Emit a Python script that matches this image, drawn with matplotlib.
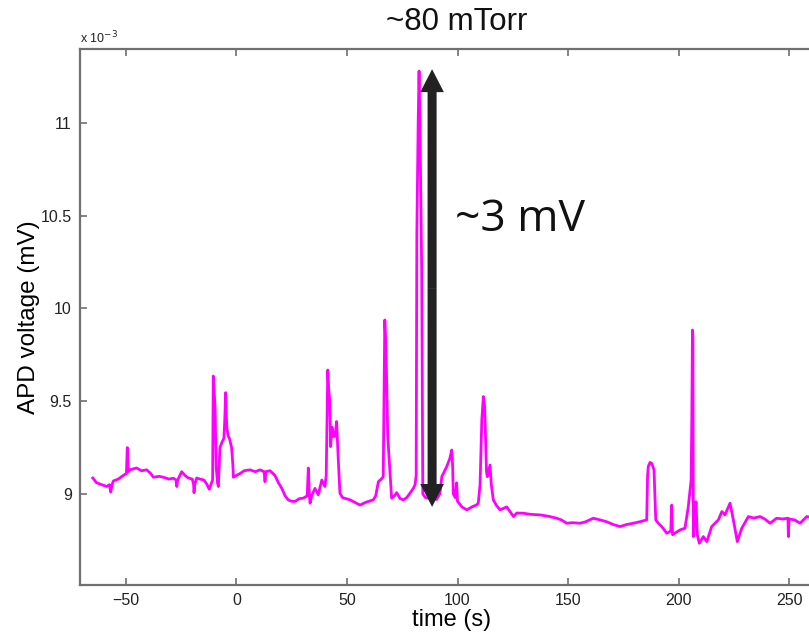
import numpy as np
import matplotlib
matplotlib.use("Agg")
import matplotlib.pyplot as plt
from matplotlib.patches import FancyArrowPatch

# APD trace (time in s, voltage in units of 1e-3)
vT = [-65.0, -63.3, -61.0, -58.7, -57.5, -56.9, -56.3, -55.7, -53.5, -51.2,
      -49.8, -49.4, -49.0, -48.2, -45.2, -43.0, -40.6, -38.8, -37.6, -35.0,
      -33.1, -30.5, -28.6, -27.3, -27.0, -26.6, -24.8, -23.3, -21.8, -20.0,
      -19.4, -19.2, -18.9, -18.0, -16.5, -14.7, -13.3, -12.3, -11.3, -10.8,
      -10.5, -10.1, -9.7, -9.2, -8.6, -8.2, -7.5, -6.5, -5.7, -5.3,
      -4.9, -4.4, -3.7, -3.2, -2.2, -1.6, -1.4, 0.0, 1.6, 3.5,
      6.1, 8.5, 10.6, 12.5, 12.9, 13.3, 15.2, 17.4, 19.0, 20.5,
      22.0, 23.4, 25.0, 26.5, 28.5, 30.2, 32.0, 32.5, 33.0, 33.3,
      34.0, 35.5, 37.0, 38.6, 40.0, 40.6, 41.3, 41.8, 42.2, 42.6,
      43.2, 44.0, 44.6, 45.3, 46.0, 46.8, 48.0, 51.4, 53.5, 55.9,
      58.5, 61.9, 63.0, 64.2, 65.5, 66.4, 67.1, 67.6, 68.0, 68.4,
      69.0, 70.2, 71.5, 72.5, 74.0, 75.5, 77.0, 78.5, 80.0, 80.8,
      81.3, 81.6, 82.2, 82.6, 83.0, 83.4, 83.8, 84.0, 84.3, 85.5,
      88.0, 90.5, 92.0, 92.9, 94.0, 95.1, 96.5, 97.4, 97.8, 98.1,
      99.0, 99.6, 100.0, 102.0, 104.2, 106.5, 108.5, 109.4, 110.2, 111.0,
      111.7, 112.3, 112.7, 113.1, 113.5, 114.7, 115.3, 116.2, 117.5, 119.2,
      122.3, 125.3, 126.8, 129.8, 133.0, 137.3, 141.0, 144.9, 147.0, 149.4,
      152.0, 155.4, 158.0, 161.4, 164.5, 167.5, 170.5, 173.5, 176.5, 179.5,
      182.5, 185.6, 186.0, 186.3, 187.1, 187.9, 188.9, 189.3, 189.7, 191.0,
      192.4, 194.7, 196.5, 196.9, 197.3, 198.5, 200.7, 202.9, 204.4, 205.7,
      206.0, 206.3, 206.5, 206.7, 207.3, 207.9, 208.5, 209.4, 211.2, 212.8,
      215.0, 218.0, 219.6, 221.0, 223.3, 224.8, 226.6, 228.6, 231.6, 234.0,
      236.9, 239.0, 241.4, 244.4, 247.0, 249.5, 249.7, 250.0, 252.5, 255.0,
      258.0, 262.0]
vSig = [9.086, 9.06, 9.05, 9.04, 9.05, 9.01, 9.05, 9.07, 9.08, 9.10,
        9.11, 9.25, 9.12, 9.13, 9.14, 9.125, 9.13, 9.11, 9.09, 9.095,
        9.09, 9.08, 9.085, 9.075, 9.04, 9.075, 9.12, 9.10, 9.086, 9.08,
        9.05, 9.007, 9.05, 9.086, 9.08, 9.075, 9.05, 9.025, 9.06, 9.075,
        9.636, 9.55, 9.47, 9.15, 9.06, 9.04, 9.25, 9.28, 9.30, 9.40,
        9.546, 9.36, 9.31, 9.30, 9.25, 9.15, 9.09, 9.10, 9.11, 9.125,
        9.13, 9.12, 9.13, 9.12, 9.066, 9.12, 9.125, 9.10, 9.06, 9.03,
        8.99, 8.968, 8.96, 8.96, 8.975, 8.977, 8.99, 9.14, 8.99, 8.95,
        8.99, 9.03, 8.995, 9.075, 9.04, 9.10, 9.668, 9.55, 9.507, 9.255,
        9.36, 9.31, 9.31, 9.39, 9.20, 9.004, 8.98, 8.968, 8.955, 8.94,
        8.955, 8.968, 8.99, 9.066, 9.08, 9.093, 9.938, 9.80, 9.578, 9.327,
        9.20, 8.977, 8.99, 9.007, 8.975, 8.968, 8.98, 9.004, 9.03, 9.05,
        9.10, 10.40, 11.00, 11.28, 11.00, 10.60, 10.20, 9.70, 9.00, 8.98,
        8.975, 8.97, 9.00, 9.093, 9.12, 9.147, 9.19, 9.237, 9.15, 9.00,
        8.98, 9.06, 8.96, 8.93, 8.914, 8.93, 8.94, 8.95, 9.05, 9.40,
        9.525, 9.47, 9.30, 9.12, 9.093, 9.156, 9.05, 8.968, 8.94, 8.914,
        8.93, 8.878, 8.897, 8.896, 8.89, 8.887, 8.88, 8.869, 8.86, 8.842,
        8.845, 8.842, 8.85, 8.869, 8.86, 8.85, 8.835, 8.824, 8.835, 8.842,
        8.85, 8.86, 9.10, 9.147, 9.17, 9.165, 9.13, 9.00, 8.86, 8.84,
        8.824, 8.788, 8.80, 8.94, 8.78, 8.79, 8.806, 8.815, 8.93, 9.075,
        9.40, 9.884, 9.85, 8.77, 8.85, 8.958, 8.78, 8.734, 8.77, 8.743,
        8.824, 8.86, 8.905, 8.887, 8.95, 8.86, 8.743, 8.815, 8.878, 8.87,
        8.878, 8.865, 8.842, 8.869, 8.865, 8.869, 8.77, 8.865, 8.86, 8.842,
        8.878, 8.87]

xTicks = [-50, 0, 50, 100, 150, 200, 250]
yTicks = [9, 9.5, 10, 10.5, 11]
yTickLabels = ['9', '9.5', '10', '10.5', '11']

# Double arrow marking the peak height
arrT = 88.5
arrLow, arrHigh = 8.93, 11.29

GREY = '#707070'
FONT = 'Liberation Sans'

hFig = plt.figure(figsize=(8.09, 6.35), dpi=100)
hAx = hFig.add_axes([80 / 809, 50 / 635, 820 / 809, 536 / 635])

hAx.plot(vT, vSig, '-', color='#ff00ff', linewidth=2.0, solid_joinstyle='round')

hAx.set_xlim(-70.8, 300.2)
hAx.set_ylim(8.509, 11.399)
hAx.set_xticks(xTicks)
hAx.set_yticks(yTicks)
hAx.set_yticklabels(yTickLabels)
hAx.tick_params(direction='in', length=5, width=1.2, color=GREY,
                labelsize=11.5, labelcolor='#222222', top=True, right=True, pad=6)
for lbl in hAx.get_xticklabels() + hAx.get_yticklabels():
    lbl.set_family(FONT)
for s in hAx.spines.values():
    s.set_color(GREY)
    s.set_linewidth(1.6)

hAx.set_xlabel('time (s)', fontsize=17, family=FONT)
hAx.xaxis.set_label_coords((452 - 80) / 820, -0.045)
hAx.set_ylabel('APD voltage (mV)', fontsize=17.5, family=FONT)
hAx.yaxis.set_label_coords((40 - 80) / 820, (635 - 317 - 50) / 536)

hFig.text(80 / 809, 1 - 43 / 635, r'x 10$^{-3}$', fontsize=9, color='#222222',
          family=FONT, ha='left', va='baseline')
hFig.text(457 / 809, 1 - 22 / 635, '~80 mTorr', fontsize=22.5, color='#111111',
          family=FONT, ha='center', va='center')

# two filled arrows from the middle, one to each end, drawn above the trace
arrMid = (arrLow + arrHigh) / 2
for yEnd in (arrHigh, arrLow):
    hArr = FancyArrowPatch((arrT, arrMid), (arrT, yEnd),
                           arrowstyle='simple,head_length=16.5,head_width=17,tail_width=6.5',
                           mutation_scale=1, linewidth=0, color='#222222',
                           shrinkA=0, shrinkB=0, zorder=4)
    hAx.add_patch(hArr)
hAx.text(98.9, 10.477, '~3 mV', fontsize=32, family='Open Sans',
         color='#111111', ha='left', va='center')

hFig.savefig('out.png', dpi=100)
